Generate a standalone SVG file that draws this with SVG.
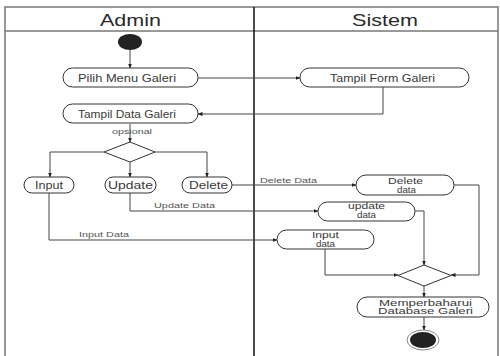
<svg xmlns="http://www.w3.org/2000/svg" width="500" height="356" viewBox="0 0 500 356">
<defs>
<marker id="ah" viewBox="0 0 10 10" refX="9" refY="5" markerWidth="5" markerHeight="5" orient="auto" markerUnits="userSpaceOnUse">
<path d="M0,1 L10,5 L0,9 Z" fill="#222"/>
</marker>
<style>
.frame{fill:none;stroke:#777;stroke-width:1.5}
.div{stroke:#111;stroke-width:1.5}
.node{fill:#fff;stroke:#333;stroke-width:1}
.t{font-family:"Liberation Sans",Arial,sans-serif;font-size:10.5px;fill:#3a3a3a}
.t2{font-family:"Liberation Sans",Arial,sans-serif;font-size:9px;fill:#3a3a3a}
.lbl{font-family:"Liberation Sans",Arial,sans-serif;font-size:7.5px;fill:#555}
.h{font-family:"Liberation Sans",Arial,sans-serif;font-size:17px;fill:#2a2a2a}
.ca{fill:none;stroke:#444;stroke-width:1;marker-end:url(#ah)}
</style>
</defs>
<rect width="500" height="356" fill="#fff"/>
<g id="frame">
<path class="frame" d="M5,356 V7 H498 V356"/>
<line class="frame" x1="5" y1="31" x2="498" y2="31"/>
<line class="div" x1="254" y1="7" x2="254" y2="356"/>
<text class="h" x="100" y="26" textLength="61" lengthAdjust="spacingAndGlyphs">Admin</text>
<text class="h" x="352" y="26" textLength="66" lengthAdjust="spacingAndGlyphs">Sistem</text>
</g>
<g id="connectors">
<line class="ca" x1="130" y1="50" x2="130" y2="68"/>
<line class="ca" x1="198" y1="78" x2="300" y2="78"/>
<polyline class="ca" points="383,87 383,114 198,114"/>
<line class="ca" x1="130" y1="124" x2="130" y2="142"/>
<text class="lbl" x="112" y="134" textLength="40" lengthAdjust="spacingAndGlyphs">opsional</text>
<polyline class="ca" points="104,152 50,152 50,177"/>
<line class="ca" x1="130" y1="162" x2="130" y2="177"/>
<polyline class="ca" points="155,152 207,152 207,177"/>
<line class="ca" x1="232" y1="185" x2="356" y2="185"/>
<text class="lbl" x="260" y="183" textLength="57" lengthAdjust="spacingAndGlyphs">Delete Data</text>
<polyline class="ca" points="130,193 130,211 318,211"/>
<text class="lbl" x="154" y="208" textLength="61" lengthAdjust="spacingAndGlyphs">Update Data</text>
<polyline class="ca" points="49,193 49,240 277,240"/>
<text class="lbl" x="79" y="237" textLength="50" lengthAdjust="spacingAndGlyphs">Input Data</text>
<polyline class="ca" points="325,249 325,275 398,275"/>
<polyline class="ca" points="415,211 424,211 424,265"/>
<polyline class="ca" points="454,185 479,185 479,275 451,275"/>
<line class="ca" x1="424" y1="286" x2="424" y2="297"/>
<line class="ca" x1="424" y1="317" x2="424" y2="330"/>
</g>
<g id="start"><ellipse cx="130" cy="42" rx="12" ry="8" fill="#222"/></g>
<g id="pilih"><rect class="node" x="63" y="68" width="135" height="19" rx="9.5"/><text class="t" x="78" y="81.5" textLength="98" lengthAdjust="spacingAndGlyphs">Pilih  Menu Galeri</text></g>
<g id="form"><rect class="node" x="300" y="68" width="169" height="19" rx="9.5"/><text class="t" x="330" y="81.5" textLength="105" lengthAdjust="spacingAndGlyphs">Tampil Form Galeri</text></g>
<g id="tampil"><rect class="node" x="63" y="104" width="135" height="19" rx="9.5"/><text class="t" x="78" y="117.5" textLength="98" lengthAdjust="spacingAndGlyphs">Tampil Data Galeri</text></g>
<g id="dec1"><polygon class="node" points="130,142 155,152 130,162 104,152"/></g>
<g id="input"><rect class="node" x="24" y="177" width="50" height="16" rx="8"/><text class="t" x="35" y="189" textLength="28" lengthAdjust="spacingAndGlyphs">Input</text></g>
<g id="update"><rect class="node" x="105" y="177" width="51" height="16" rx="8"/><text class="t" x="108" y="189" textLength="45" lengthAdjust="spacingAndGlyphs">Update</text></g>
<g id="delete"><rect class="node" x="182" y="177" width="50" height="16" rx="8"/><text class="t" x="189" y="189" textLength="39" lengthAdjust="spacingAndGlyphs">Delete</text></g>
<g id="deletedata"><rect class="node" x="356" y="175" width="98" height="20" rx="10"/><text class="t2" x="388" y="184" textLength="35" lengthAdjust="spacingAndGlyphs">Delete</text><text class="t2" x="397" y="192.5" textLength="19" lengthAdjust="spacingAndGlyphs">data</text></g>
<g id="updatedata"><rect class="node" x="318" y="202" width="97" height="19" rx="9.5"/><text class="t2" x="348" y="209" textLength="37" lengthAdjust="spacingAndGlyphs">update</text><text class="t2" x="357" y="217.5" textLength="19" lengthAdjust="spacingAndGlyphs">data</text></g>
<g id="inputdata"><rect class="node" x="277" y="230" width="97" height="19" rx="9.5"/><text class="t2" x="312" y="238" textLength="27" lengthAdjust="spacingAndGlyphs">Input</text><text class="t2" x="316" y="246.5" textLength="19" lengthAdjust="spacingAndGlyphs">data</text></g>
<g id="dec2"><polygon class="node" points="424,265 451,275.5 424,286 398,275.5"/></g>
<g id="memperbaharui"><rect class="node" x="357" y="297" width="132" height="20" rx="10"/><text class="t2" x="379" y="305.5" textLength="93" lengthAdjust="spacingAndGlyphs">Memperbaharui</text><text class="t2" x="378" y="314" textLength="95" lengthAdjust="spacingAndGlyphs">Database Galeri</text></g>
<g id="end"><ellipse cx="423" cy="340" rx="16" ry="10" fill="#fff" stroke="#666" stroke-width="0.8"/><ellipse cx="423" cy="340" rx="13" ry="8" fill="#222"/></g>
</svg>
